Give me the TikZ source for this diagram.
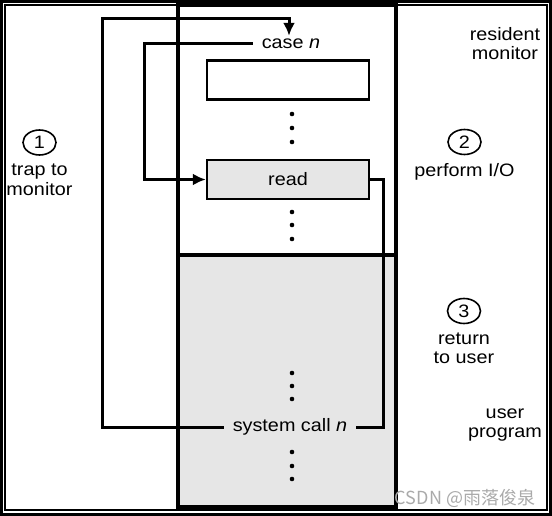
\documentclass[tikz,border=0pt]{standalone}
\usepackage{fontspec}
\setmainfont{Liberation Sans}[FakeStretch=1.1]
\newfontfamily\cjkfont{Noto Sans CJK SC}
\usetikzlibrary{arrows.meta,positioning,shapes.geometric}
\definecolor{mFill}{RGB}{230,230,230}
\definecolor{mMark}{RGB}{170,170,170}
\newcommand{\labelfont}{\fontsize{18}{19.5}\selectfont}
\tikzset{
memslot/.style={rectangle,draw=black,line width=2.4pt,minimum width=162pt,minimum height=39pt,inner sep=0pt,font=\labelfont},
codeline/.style={inner xsep=9pt,inner ysep=3.5pt,text height=9pt,text depth=0pt,font=\labelfont},
stepmark/.style={ellipse,draw=black,line width=1.6pt,minimum width=33pt,minimum height=25pt,inner sep=0pt,font=\labelfont},
note/.style={align=center,inner sep=0pt,font=\labelfont},
arrow/.style={-{Latex[length=13pt,width=12pt]},line width=3pt,draw=black},
link/.style={line width=3pt,draw=black}
}

\begin{document}
\begin{tikzpicture}[x=1pt,y=-1pt,node distance=8pt]
\useasboundingbox (0,0) rectangle (552,516);
\fill[mFill] (178,255) rectangle (396,507);
\draw[line width=3pt] (1.5,1.5) rectangle (550.5,514.5);
\draw[line width=1.4pt] (5,5) rectangle (547,510);
\draw[line width=3.5pt] (178,5) rectangle (396,507);
\draw[line width=3.5pt] (178,255) -- (396,255);
\node[codeline] (casen) at (291,44) {case \textit{n}};
\node[memslot] (slot) at (288,80) {};
\node[memslot,fill=mFill] (read) at (288,179.5) {read};
\node[codeline] (syscall) at (290,427) {system call \textit{n}};
\foreach \y in {114,128,142,212,225,239,373,386,399,452,466,479}
  \fill (292,\y) circle (2.3pt);
\node[stepmark] (trap) at (39.5,142.5) {1};
\node[stepmark] (perform) at (464.5,142) {2};
\node[stepmark] (return) at (464,311) {3};
\node[note,below=of trap] (traptext) {trap to\\monitor};
\node[note,below=of perform] (performtext) {perform I/O};
\node[note,below=of return] (returntext) {return\\to user};
\node[note] (resident) at (505,43.5) {resident\\monitor};
\node[note] (userprog) at (505,425) {user\\program};
\coordinate (trapbend) at (102,19);
\coordinate (casebend) at (144,100);
\coordinate (readbend) at (383,300);
\draw[arrow] (syscall.west) -| (trapbend) -| ([xshift=-2pt]casen.north);
\draw[arrow] (casen.west) -| (casebend) |- (read.west);
\draw[link] (read.east) -| (readbend) |- (syscall.east);
\node[text=mMark,font=\cjkfont\fontsize{18}{19}\selectfont] (mark) at (465,498) {CSDN @雨落俊泉};
\end{tikzpicture}
\end{document}
